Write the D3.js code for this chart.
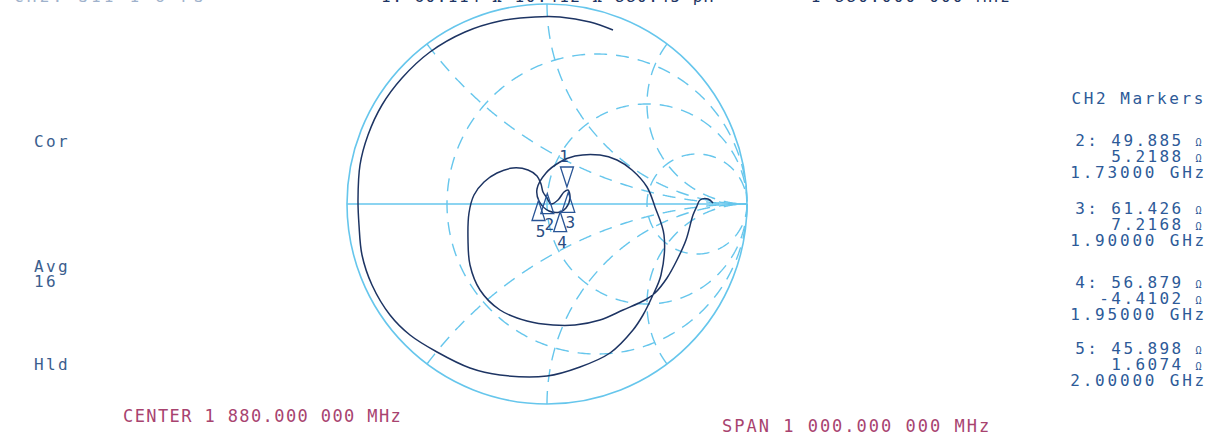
<!DOCTYPE html>
<html>
<head>
<meta charset="utf-8">
<script src="https://cdn.jsdelivr.net/npm/d3@7"></script>
<style>
  body { margin: 0; background: #fff; }
  text { font-family: "DejaVu Sans Mono", monospace; }
</style>
</head>
<body>
<svg id="smith" width="1214" height="439"></svg>
<script>
const traceRe = [0.83, 0.805, 0.765, 0.75, 0.73, 0.695, 0.65, 0.6, 0.54, 0.49, 0.38, 0.265, 0.14, 0.03, -0.1, -0.235, -0.335, -0.385, -0.395, -0.39, -0.365, -0.315, -0.25, -0.17, -0.095,
  -0.05, -0.03, -0.02, 0.0, 0.02, 0.055, 0.085, 0.105, 0.115, 0.095, 0.065, 0.01, -0.04, -0.05, -0.005, 0.065, 0.14, 0.265, 0.35, 0.425, 0.5, 0.54, 0.585, 0.57, 0.525, 0.48, 0.43,
  0.315, 0.165, 0.0, -0.235, -0.385, -0.55, -0.685, -0.785, -0.875, -0.925, -0.94, -0.945, -0.935, -0.895, -0.825, -0.725, -0.585, -0.41, -0.235, -0.06, 0.065, 0.215, 0.33];
const traceIm = [0.005, 0.025, 0.02, -0.01, -0.055, -0.18, -0.28, -0.37, -0.445, -0.48, -0.53, -0.58, -0.605, -0.605, -0.585, -0.53, -0.43, -0.305, -0.18, -0.045, 0.045, 0.11, 0.155, 0.18, 0.17,
  0.14, 0.1, 0.06, 0.03, 0.0, 0.02, 0.06, 0.07, 0.03, -0.02, -0.04, -0.035, 0.015, 0.075, 0.155, 0.21, 0.24, 0.245, 0.22, 0.17, 0.085, -0.015, -0.155, -0.355, -0.465, -0.555, -0.63,
  -0.745, -0.815, -0.86, -0.855, -0.82, -0.74, -0.655, -0.555, -0.405, -0.255, -0.105, 0.02, 0.195, 0.345, 0.495, 0.63, 0.76, 0.86, 0.915, 0.935, 0.935, 0.91, 0.87];

// markers (ohms); marker 1 is estimated, the others are from the readout
const markerIds = ["1", "2", "3", "4", "5"];
const markerR = [60.1, 49.885, 61.426, 56.879, 45.898];
const markerX = [10.4, 5.2188, 7.2168, -4.4102, 1.6074];
const markerFreq = ["1.88000 GHz", "1.73000 GHz", "1.90000 GHz", "1.95000 GHz", "2.00000 GHz"];
const markerRText = ["60.114", "49.885", "61.426", "56.879", "45.898"];
const markerXText = ["10.412", "5.2188", "7.2168", "-4.4102", "1.6074"];

// grid
const gridR = [1 / 3, 1, 3];
const gridX = [0.5, 1, 2, -0.5, -1, -2];

const z0 = 50;
const svg = d3.select("#smith");
const cx = 547, cy = 204, rad = 200;
const x = d3.scaleLinear().domain([-1, 1]).range([cx - rad, cx + rad]);
const y = d3.scaleLinear().domain([-1, 1]).range([cy + rad, cy - rad]);

const gridColor = "#66c6ec";
const traceColor = "#1d3463";

function gamma(r, xx) {
  // (z - 1) / (z + 1)
  const a = r - 1, b = xx, c = r + 1, d = xx;
  const den = c * c + d * d;
  return [(a * c + b * d) / den, (b * c - a * d) / den];
}

svg.append("defs").append("clipPath").attr("id", "unit")
  .append("circle").attr("cx", x(0)).attr("cy", y(0)).attr("r", x(1) - x(0));

const grid = svg.append("g").attr("fill", "none").attr("stroke", gridColor);

grid.append("circle")
  .attr("cx", x(0)).attr("cy", y(0)).attr("r", x(1) - x(0))
  .attr("stroke-width", 1.6);

grid.append("line")
  .attr("x1", x(-1)).attr("x2", x(1)).attr("y1", y(0)).attr("y2", y(0))
  .attr("stroke-width", 1.6);

const gline = d3.line().x(d => x(d[0])).y(d => y(d[1]));
const ts = d3.range(0, 0.999, 0.002);

// constant resistance circles
grid.selectAll(".rc").data(gridR).enter().append("path")
  .attr("class", "rc")
  .attr("d", r => gline(ts.map(t => gamma(r, Math.tan((t - 0.5) * Math.PI)))))
  .attr("stroke-width", 1.4)
  .attr("stroke-dasharray", "13,9");

// constant reactance arcs
grid.selectAll(".xc").data(gridX).enter().append("path")
  .attr("class", "xc")
  .attr("clip-path", "url(#unit)")
  .attr("d", xx => gline(ts.map(t => gamma(t / (1 - t), xx))))
  .attr("stroke-width", 1.4)
  .attr("stroke-dasharray", "13,9");

// trace
const pts = traceRe.map((d, i) => [d, traceIm[i]]);
svg.append("path")
  .attr("d", d3.line().x(d => x(d[0])).y(d => y(d[1])).curve(d3.curveCatmullRom)(pts))
  .attr("fill", "none")
  .attr("stroke", traceColor)
  .attr("stroke-width", 1.5);

// markers
const mk = svg.append("g");
markerIds.forEach((id, i) => {
  const g = gamma(markerR[i] / z0, markerX[i] / z0);
  const px = x(g[0]), py = y(g[1]);
  const up = i === 0 ? -1 : 1; // active marker points down
  mk.append("path")
    .attr("d", `M${px},${py}L${px - 6.5},${py + up * 20}L${px + 6.5},${py + up * 20}Z`)
    .attr("fill", "none")
    .attr("stroke", "#2a5596")
    .attr("stroke-width", 1.3);
  mk.append("text")
    .attr("x", px + (i === 0 ? -3 : 2))
    .attr("y", i === 0 ? py - 25 : py + 36)
    .attr("text-anchor", "middle")
    .attr("font-size", 16)
    .attr("fill", "#2a4c82")
    .text(id);
});

// header (cut off at the top edge)
svg.append("text").attr("x", 14).attr("y", 2).attr("font-size", 16)
  .attr("fill", "#9fb2cc").attr("letter-spacing", 3.2).text("CH2: S11   1 U FS");
svg.append("text").attr("x", 715).attr("y", 2).attr("font-size", 16).attr("text-anchor", "end")
  .attr("fill", traceColor).attr("letter-spacing", 1.5)
  .text(`1: ${markerRText[0]} Ω  ${markerXText[0]} Ω  880.45 pH`);
svg.append("text").attr("x", 1012).attr("y", 2).attr("font-size", 16).attr("text-anchor", "end")
  .attr("fill", traceColor).attr("letter-spacing", 2.2).text("1 880.000 000 MHz");

// left status
const leftColor = "#3b5e8e";
const leftLabels = [["Cor", 147], ["Avg", 272], ["16", 287], ["Hld", 370]];
leftLabels.forEach(d => {
  svg.append("text").attr("x", 34).attr("y", d[1]).attr("font-size", 16)
    .attr("letter-spacing", 2.4).attr("fill", leftColor).text(d[0]);
});

// marker readout
const rc = "#2d5a98";
const right = 1204;
const groupTop = [146, 214, 288, 354];
svg.append("text").attr("x", right + 2).attr("y", 104).attr("font-size", 16).attr("text-anchor", "end")
  .attr("letter-spacing", 2.6).attr("fill", rc).text("CH2 Markers");

markerIds.slice(1).forEach((id, k) => {
  const i = k + 1;
  const top = groupTop[k];
  const l1 = svg.append("text").attr("x", right).attr("y", top).attr("font-size", 16)
    .attr("text-anchor", "end").attr("letter-spacing", 2.4).attr("fill", rc);
  l1.append("tspan").text(`${id}: ${markerRText[i]} `);
  l1.append("tspan").attr("font-size", 10).text("Ω");
  const l2 = svg.append("text").attr("x", right).attr("y", top + 16).attr("font-size", 16)
    .attr("text-anchor", "end").attr("letter-spacing", 2.4).attr("fill", rc);
  l2.append("tspan").text(`${markerXText[i]} `);
  l2.append("tspan").attr("font-size", 10).text("Ω");
  svg.append("text").attr("x", right + 3).attr("y", top + 32).attr("font-size", 16)
    .attr("text-anchor", "end").attr("letter-spacing", 2.8).attr("fill", rc).text(markerFreq[i]);
});

// footer
const footColor = "#a8436f";
svg.append("text").attr("x", 123).attr("y", 422).attr("font-size", 17)
  .attr("letter-spacing", 1.4).attr("fill", footColor).text("CENTER 1 880.000 000 MHz");
svg.append("text").attr("x", 722).attr("y", 432).attr("font-size", 17)
  .attr("letter-spacing", 2.0).attr("fill", footColor).text("SPAN 1 000.000 000 MHz");
</script>
</body>
</html>
